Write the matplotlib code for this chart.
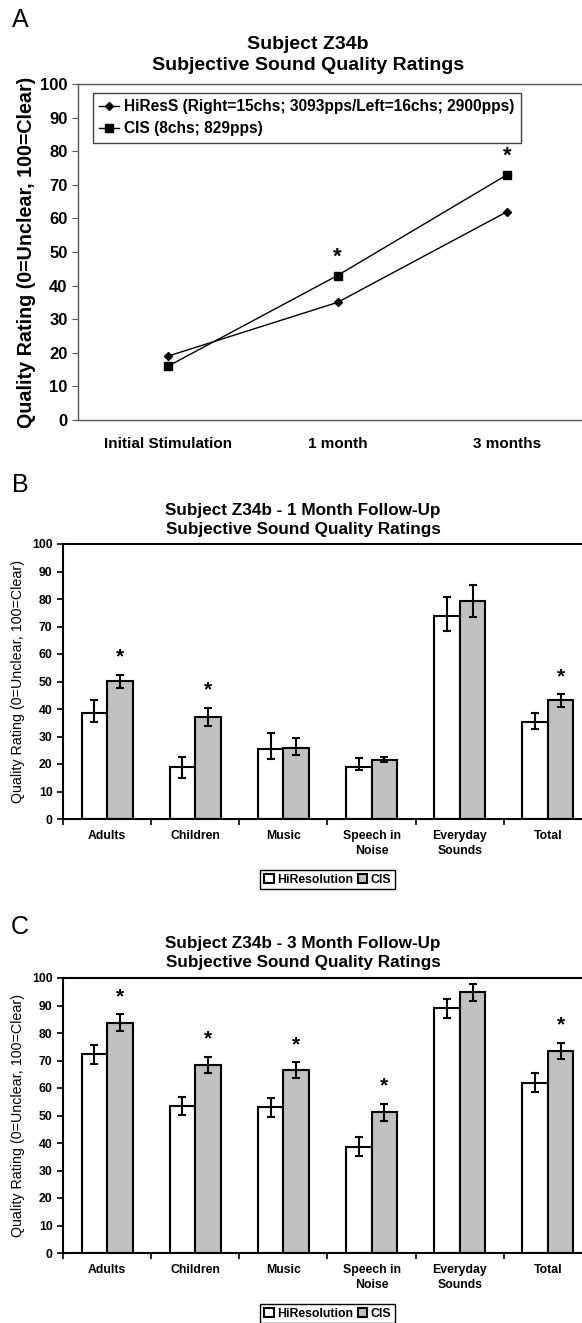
import matplotlib
matplotlib.use('Agg')
import matplotlib.pyplot as plt
import numpy as np

plt.rcParams.update({
    'font.family': 'Liberation Sans',
    'font.weight': 'bold',
    'axes.linewidth': 1.0,
})

# Panel A data
timepoints = ['Initial Stimulation', '1 month', '3 months']
hires_a = [19, 35, 62]
cis_a = [16, 43, 73]
sig_a = [False, True, True]

# Panels B and C data
categories = ['Adults', 'Children', 'Music', 'Speech in\nNoise', 'Everyday\nSounds', 'Total']

b_hires = [38.5, 18.8, 25.4, 19.0, 73.8, 35.2]
b_hires_lo = [3.3, 3.8, 3.4, 1.1, 5.4, 2.4]
b_hires_hi = [4.6, 3.8, 5.7, 3.3, 6.9, 3.3]
b_cis = [50.1, 37.2, 26.0, 21.5, 79.3, 43.2]
b_cis_lo = [2.5, 3.5, 2.8, 0.9, 5.7, 2.3]
b_cis_hi = [2.4, 3.2, 3.3, 1.0, 5.8, 2.1]
b_sig = [True, True, False, False, False, True]

c_hires = [72.2, 53.6, 53.0, 38.7, 89.0, 61.9]
c_hires_err = [3.4, 3.3, 3.4, 3.4, 3.5, 3.4]
c_cis = [83.8, 68.3, 66.4, 51.1, 94.8, 73.4]
c_cis_err = [3.0, 3.0, 2.9, 3.0, 3.0, 3.0]
c_sig = [True, True, True, True, False, True]

W, H = 582, 1323
fig = plt.figure(figsize=(W / 100, H / 100), dpi=100)


def px_axes(left, top, right, bottom):
    return fig.add_axes([left / W, 1 - bottom / H, (right - left) / W, (bottom - top) / H])


# ---------------- Panel A ----------------
ax = px_axes(78, 84, 597, 420)
x = np.arange(len(timepoints))
ax.plot(x, hires_a, color='black', lw=1.0, marker='D', ms=4.5,
        label='HiResS (Right=15chs; 3093pps/Left=16chs; 2900pps)')
ax.plot(x, cis_a, color='black', lw=1.0, marker='s', ms=6,
        label='CIS (8chs; 829pps)')
for xi, yi, s in zip(x, cis_a, sig_a):
    if s:
        ax.text(xi, yi + 5.5, '*', ha='center', va='center', fontsize=16)
ax.set_xlim(-0.53, 2.53)
ax.set_ylim(0, 100)
ax.set_yticks(np.arange(0, 101, 10))
ax.tick_params(axis='y', labelsize=12, length=4, direction='out', color='#555555')
ax.set_xticks(x)
ax.set_xticklabels(timepoints, fontsize=11)
ax.tick_params(axis='x', length=0, pad=12)
for sp in ax.spines.values():
    sp.set_color('#555555')
ax.set_ylabel('Quality Rating (0=Unclear, 100=Clear)', fontsize=14.2,
              fontweight='bold', labelpad=3)
leg = ax.legend(loc='upper left', bbox_to_anchor=(0.029, 0.973), borderaxespad=0,
                fontsize=11.2, frameon=True, fancybox=False, edgecolor='#444444',
                framealpha=1, handlelength=1.3, handletextpad=0.3, labelspacing=0.45,
                borderpad=0.4)
leg.get_frame().set_linewidth(1.0)
fig.text(308 / W, 1 - 55 / H, 'Subject Z34b\nSubjective Sound Quality Ratings',
         ha='center', va='center', fontsize=14, linespacing=1.35)
fig.text(20 / W, 1 - 20 / H, 'A', ha='center', va='center', fontsize=18, fontweight='normal')


# ---------------- Panels B and C ----------------
def bar_panel(top, bottom, hires, h_err, cis, c_err, sig, title, letter, letter_y, title_y):
    ax = px_axes(63, top, 592, bottom)
    xc = np.arange(len(categories))
    w = 0.29
    ax.bar(xc - w / 2, hires, w, color='white', edgecolor='black', lw=1.5, zorder=2,
           label='HiResolution')
    ax.bar(xc + w / 2, cis, w, color='#c0c0c0', edgecolor='black', lw=1.5, zorder=2,
           label='CIS')
    ax.errorbar(xc - w / 2, hires, yerr=h_err, fmt='none', ecolor='black', elinewidth=1.5,
                capsize=3, capthick=1.5, zorder=3)
    ax.errorbar(xc + w / 2, cis, yerr=c_err, fmt='none', ecolor='black', elinewidth=1.5,
                capsize=3, capthick=1.5, zorder=3)
    up = c_err[1] if len(c_err) == 2 else c_err
    c_top = np.array(cis) + np.array(up)
    for xi, yi, s in zip(xc, c_top, sig):
        if s:
            ax.text(xi + w / 2, yi + 6.5, '*', ha='center', va='center', fontsize=15)
    ax.set_xlim(-0.5, len(categories) - 0.5)
    ax.set_ylim(0, 100)
    ax.set_yticks(np.arange(0, 101, 10))
    ax.tick_params(axis='y', labelsize=8.8, length=4, width=1.2, direction='out')
    ax.set_xticks(xc)
    ax.set_xticklabels(categories, fontsize=8.8, linespacing=1.35)
    ax.tick_params(axis='x', length=0, pad=8)
    ax.set_xticks(np.arange(len(categories)) - 0.5, minor=True)
    ax.tick_params(axis='x', which='minor', length=4, width=1.2, direction='out')
    for sp in ax.spines.values():
        sp.set_linewidth(1.5)
    ax.set_ylabel('Quality Rating (0=Unclear, 100=Clear)', fontsize=10.3,
                  fontweight='normal', labelpad=5)
    leg = ax.legend(loc='upper center', bbox_to_anchor=(0.5, -0.185), ncol=2,
                    fontsize=8.8, frameon=True, fancybox=False, edgecolor='black',
                    framealpha=1, handlelength=0.8, handleheight=0.8, handletextpad=0.25,
                    columnspacing=0.4, borderpad=0.3, borderaxespad=0)
    leg.get_frame().set_linewidth(1.0)
    fig.text(303 / W, 1 - title_y / H, title, ha='center', va='center',
             fontsize=12.3, linespacing=1.4)
    fig.text(20 / W, 1 - letter_y / H, letter, ha='center', va='center',
             fontsize=18, fontweight='normal')
    return ax


bar_panel(544, 819, b_hires, [b_hires_lo, b_hires_hi], b_cis, [b_cis_lo, b_cis_hi], b_sig,
          'Subject Z34b - 1 Month Follow-Up\nSubjective Sound Quality Ratings', 'B', 485, 520)
bar_panel(978, 1253, c_hires, c_hires_err, c_cis, c_cis_err, c_sig,
          'Subject Z34b - 3 Month Follow-Up\nSubjective Sound Quality Ratings', 'C', 927, 953)

fig.savefig('out.png', dpi=100)
